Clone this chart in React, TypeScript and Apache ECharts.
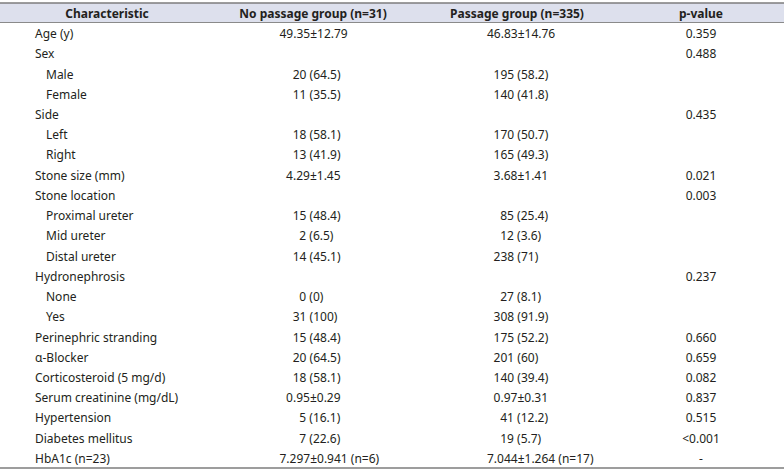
import React, { useEffect, useRef } from "react";
import * as echarts from "echarts";

const headers = ["Characteristic", "No passage group (n=31)", "Passage group (n=335)", "p-value"];

const characteristics = [
  "Age (y)", "Sex", "Male", "Female", "Side", "Left", "Right", "Stone size (mm)",
  "Stone location", "Proximal ureter", "Mid ureter", "Distal ureter", "Hydronephrosis",
  "None", "Yes", "Perinephric stranding", "α-Blocker", "Corticosteroid (5 mg/d)",
  "Serum creatinine (mg/dL)", "Hypertension", "Diabetes mellitus", "HbA1c (n=23)",
];

const indentLevel = [0, 0, 1, 1, 0, 1, 1, 0, 0, 1, 1, 1, 0, 1, 1, 0, 0, 0, 0, 0, 0, 0];

const noPassageGroup = [
  "49.35±12.79", "", "20 (64.5)", "11 (35.5)", "", "18 (58.1)", "13 (41.9)", "4.29±1.45",
  "", "15 (48.4)", "2 (6.5)", "14 (45.1)", "", "0 (0)", "31 (100)", "15 (48.4)",
  "20 (64.5)", "18 (58.1)", "0.95±0.29", "5 (16.1)", "7 (22.6)", "7.297±0.941 (n=6)",
];

const passageGroup = [
  "46.83±14.76", "", "195 (58.2)", "140 (41.8)", "", "170 (50.7)", "165 (49.3)", "3.68±1.41",
  "", "85 (25.4)", "12 (3.6)", "238 (71)", "", "27 (8.1)", "308 (91.9)", "175 (52.2)",
  "201 (60)", "140 (39.4)", "0.97±0.31", "41 (12.2)", "19 (5.7)", "7.044±1.264 (n=17)",
];

const pValues = [
  "0.359", "0.488", "", "", "0.435", "", "", "0.021", "0.003", "", "", "", "0.237",
  "", "", "0.660", "0.659", "0.082", "0.837", "0.515", "<0.001", "-",
];

const FONT = "'Noto Sans', 'DejaVu Sans', sans-serif";
const TEXT_COLOR = "#231f20";
const W = 784;
const H = 471;

// leading-number alignment (figure-space style padding used in the source table)
function padUnits(s: string): number {
  const tok = s.split(/[ ±]/)[0];
  const map: Record<number, number> = { 1: 3, 2: 2, 3: 1, 4: 1, 5: 0 };
  return map[tok.length] ?? 0;
}

export default function App() {
  const ref = useRef<HTMLDivElement>(null);

  useEffect(() => {
    document.body.style.margin = "0";
    if (!ref.current) return;
    const chart = echarts.init(ref.current, null, { renderer: "svg" });

    const headerTop = 3;
    const headerBottom = 22.5;
    const rowY0 = 33.6;
    const rowH = 20.23;
    const fontSize = 12;
    const digitW = 6.6;
    const col2Left = 279.5;
    const col3Left = 487;
    const headerCenters = [107, 313, 517, 701];
    const labelX = 35;
    const indentW = 11;
    const pCenter = 701;

    const elements: any[] = [];
    elements.push({
      type: "rect",
      shape: { x: 0, y: headerTop, width: W, height: headerBottom - headerTop },
      style: { fill: "#dde0ed" },
      silent: true,
    });
    elements.push({
      type: "line",
      shape: { x1: 0, y1: headerTop, x2: W, y2: headerTop },
      style: { stroke: "#7d7d7d", lineWidth: 1.5 },
    });
    elements.push({
      type: "line",
      shape: { x1: 0, y1: headerBottom, x2: W, y2: headerBottom },
      style: { stroke: "#8a8a8a", lineWidth: 1 },
    });
    elements.push({
      type: "line",
      shape: { x1: 0, y1: 468, x2: W, y2: 468 },
      style: { stroke: "#7d7d7d", lineWidth: 1.5 },
    });

    headers.forEach((h, i) => {
      elements.push({
        type: "text",
        x: headerCenters[i],
        y: (headerTop + headerBottom) / 2 + 0.5,
        style: {
          text: h,
          fill: TEXT_COLOR,
          font: `bold ${fontSize}px ${FONT}`,
          align: "center",
          verticalAlign: "middle",
        },
      });
    });

    characteristics.forEach((c, i) => {
      const y = rowY0 + i * rowH;
      elements.push({
        type: "text",
        x: labelX + indentLevel[i] * indentW,
        y,
        style: { text: c, fill: TEXT_COLOR, font: `${fontSize}px ${FONT}`, align: "left", verticalAlign: "middle" },
      });
      if (noPassageGroup[i]) {
        elements.push({
          type: "text",
          x: col2Left + padUnits(noPassageGroup[i]) * digitW,
          y,
          style: { text: noPassageGroup[i], fill: TEXT_COLOR, font: `${fontSize}px ${FONT}`, align: "left", verticalAlign: "middle" },
        });
      }
      if (passageGroup[i]) {
        elements.push({
          type: "text",
          x: col3Left + padUnits(passageGroup[i]) * digitW,
          y,
          style: { text: passageGroup[i], fill: TEXT_COLOR, font: `${fontSize}px ${FONT}`, align: "left", verticalAlign: "middle" },
        });
      }
      if (pValues[i]) {
        elements.push({
          type: "text",
          x: pCenter,
          y,
          style: { text: pValues[i], fill: TEXT_COLOR, font: `${fontSize}px ${FONT}`, align: "center", verticalAlign: "middle" },
        });
      }
    });

    chart.setOption({
      animation: false,
      backgroundColor: "#ffffff",
      graphic: { elements },
    });

    return () => chart.dispose();
  }, []);

  return <div ref={ref} style={{ width: W, height: H }} />;
}
